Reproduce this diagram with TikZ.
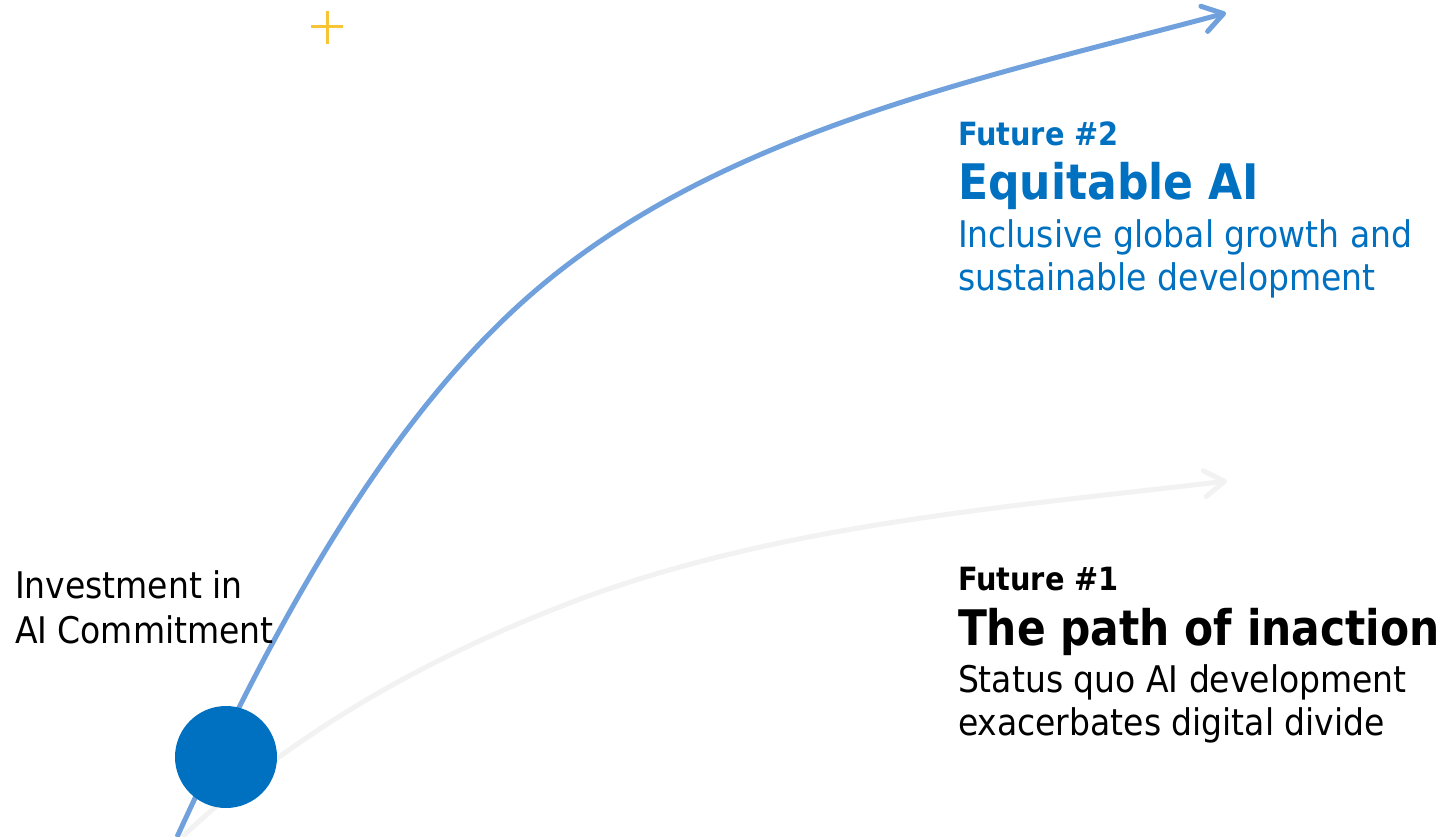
\documentclass[tikz,border=0pt]{standalone}
\usepackage{fontspec}
\setmainfont{DejaVu Sans Condensed}
\usetikzlibrary{arrows.meta}
\definecolor{curveblue}{RGB}{112,161,221}
\definecolor{curvegray}{RGB}{242,242,242}
\definecolor{darkblue}{RGB}{0,112,192}
\definecolor{gold}{RGB}{247,196,52}
\tikzset{
  path2/.style={curveblue, line width=5pt, -{Straight Barb[length=20pt,width=26pt,round]}},
  path1/.style={curvegray, line width=5pt, -{Straight Barb[length=20pt,width=26pt,round]}},
  label/.style={anchor=base west, inner sep=0pt, outer sep=0pt},
  body/.style={label, font=\fontsize{36.7}{43}\selectfont},
  small/.style={label, font=\fontsize{32}{38}\selectfont\bfseries},
  big/.style={label, font=\fontsize{49}{58}\selectfont\bfseries},
}
\begin{document}
\begin{tikzpicture}[x=1pt,y=-1pt]
\useasboundingbox (0,0) rectangle (1445,837);
% gray path (Future #1)
\coordinate (g0) at (182,837);
\coordinate (g1) at (583,598);
\coordinate (g2) at (1227,481);
\draw[path1] (g0) .. controls (298,728) and (438,652) .. (g1)
  .. controls (787,523.5) and (1009,507) .. (g2);
% blue path (Future #2)
\coordinate (b0) at (177,837);
\coordinate (b1) at (517,307);
\coordinate (b2) at (1226,13);
\draw[path2] (b0) .. controls (262,652) and (370,442) .. (b1)
  .. controls (705,134) and (976,80) .. (b2);
% start circle
\node[circle, fill=darkblue, minimum size=102pt, inner sep=0pt] (start) at (226,757) {};
% plus mark
\coordinate (pc) at (327,27);
\draw[gold, line width=3pt] ([xshift=-16pt]pc) -- ([xshift=16pt]pc)
  ([yshift=-17pt]pc) -- ([yshift=16pt]pc);
% left label
\node[body] (inv1) at (15,598) {Investment in};
\node[body] (inv2) at (15,643) {AI Commitment};
% Future 2
\node[small, text=darkblue] (f2a) at (958,146) {Future \#2};
\node[big, text=darkblue] (f2b) at (958,200) {Equitable AI};
\node[body, text=darkblue] (f2c) at (958,247) {Inclusive global growth and};
\node[body, text=darkblue] (f2d) at (958,290) {sustainable development};
% Future 1
\node[small] (f1a) at (958,590) {Future \#1};
\node[big] (f1b) at (958,645) {\scalebox{0.962}[1]{The path of inaction}};
\node[body] (f1c) at (958,692) {Status quo AI development};
\node[body] (f1d) at (958,735) {exacerbates digital divide};
\end{tikzpicture}
\end{document}
